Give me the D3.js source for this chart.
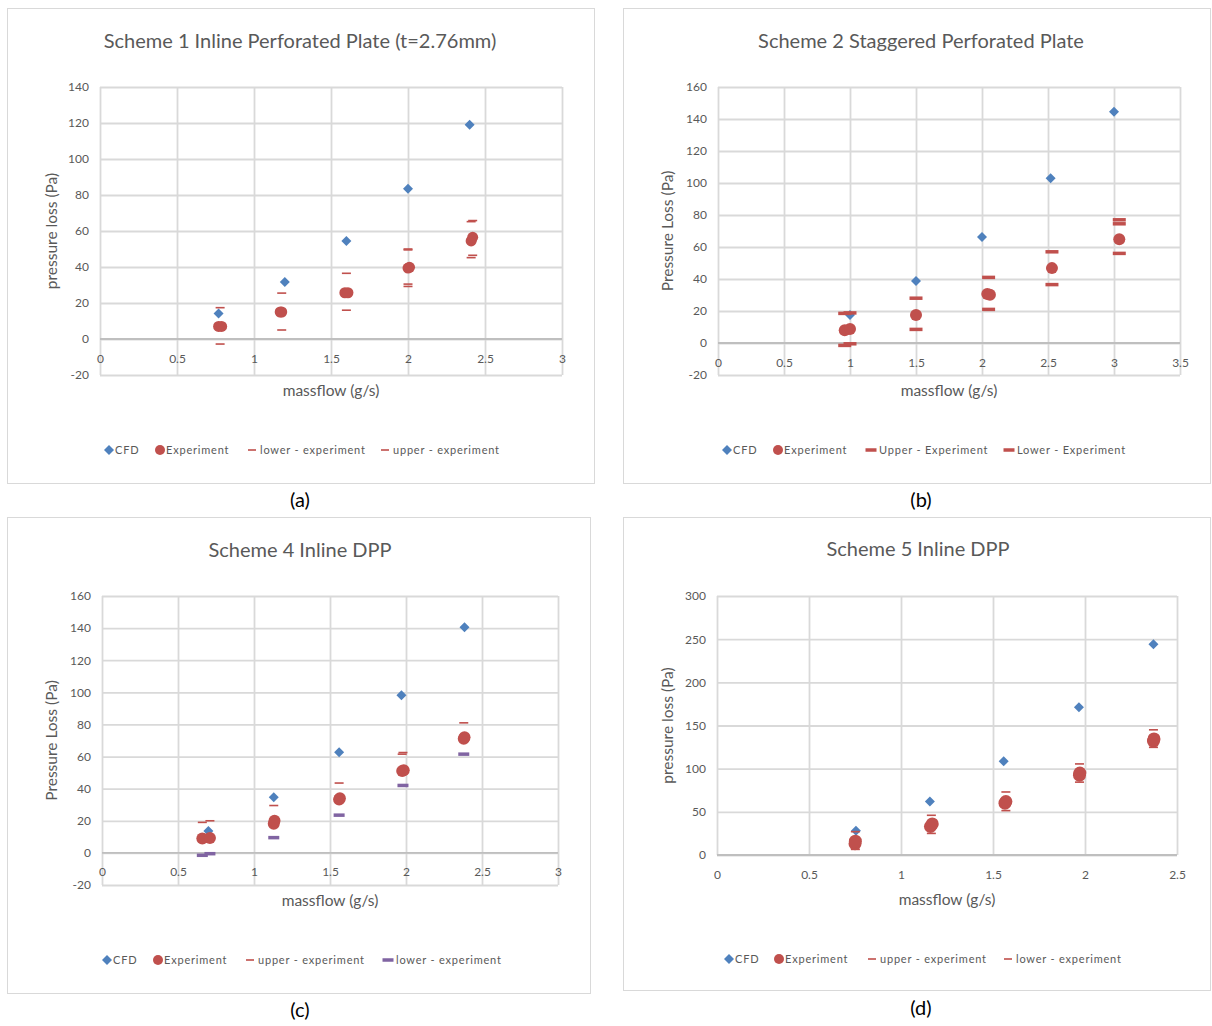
<!DOCTYPE html>
<html>
<head>
<meta charset="utf-8">
<script src="https://cdn.jsdelivr.net/npm/d3@7"></script>
<style>
body { margin: 0; background: #fff; }
text { font-family: Lato, "Open Sans", sans-serif; }
</style>
</head>
<body>
<svg id="chart" width="1212" height="1026"></svg>
<script>
// Scheme 1 (a)
var cfdA = [[0.77, 14.2], [1.2, 31.6], [1.6, 54.5], [2.0, 83.5], [2.4, 119]];
var expA = [[0.77, 7], [0.79, 7], [1.17, 15], [1.18, 15], [1.59, 25.7], [1.61, 25.7], [2.0, 39.4], [2.01, 39.8], [2.41, 54.5], [2.42, 56.5]];
var lowerA = [[0.78, -2.8], [1.18, 5], [1.6, 16], [2.0, 29.2], [2.0, 30.5], [2.41, 45.2], [2.42, 46.5]];
var upperA = [[0.78, 17.4], [1.18, 25.5], [1.6, 36.5], [2.0, 49.5], [2.0, 50], [2.41, 65.2], [2.42, 65.8]];

// Scheme 2 (b)
var cfdB = [[1.0, 17.5], [1.5, 38.7], [2.0, 66.3], [2.52, 103], [3.0, 144.5]];
var expB = [[0.96, 7.9], [1.0, 8.7], [1.5, 17.5], [2.04, 30.6], [2.06, 30.2], [2.53, 46.8], [3.04, 64.9]];
var upperB = [[0.96, 18.5], [1.0, 18.8], [1.5, 28], [2.05, 41], [2.53, 57], [3.04, 74.5], [3.04, 77]];
var lowerB = [[0.96, -1.5], [1.0, -0.5], [1.5, 8.5], [2.05, 21], [2.53, 36.5], [3.04, 56]];

// Scheme 4 (c)
var cfdC = [[0.70, 13.6], [1.13, 34.6], [1.56, 62.7], [1.97, 98.2], [2.385, 140.5]];
var expC = [[0.66, 8.9], [0.71, 9.3], [1.13, 18.2], [1.135, 20], [1.56, 33.2], [1.565, 34], [1.975, 51], [1.985, 51.5], [2.38, 71.1], [2.385, 72]];
var upperC = [[0.66, 19], [0.71, 20], [1.13, 29.5], [1.56, 43.5], [1.975, 61.5], [1.98, 62.5], [2.38, 81]];
var lowerC = [[0.66, -1.5], [0.71, -0.5], [1.13, 9.5], [1.56, 23.5], [1.98, 42], [2.38, 61.5]];

// Scheme 5 (d)
var cfdD = [[0.755, 28], [1.157, 62], [1.558, 108.5], [1.967, 171], [2.372, 244]];
var expD = [[0.75, 13], [0.752, 16], [1.16, 33], [1.17, 36], [1.565, 60], [1.57, 62], [1.97, 92.5], [1.972, 95], [2.372, 132], [2.375, 134.5]];
var upperD = [[0.752, 27], [1.165, 46], [1.57, 73], [1.97, 105.5], [2.372, 145]];
var lowerD = [[0.752, 6.5], [1.165, 25], [1.57, 51.4], [1.97, 84.4], [2.372, 124.7]];

var BLUE = "#4f81bd", RED = "#c0504d", PURPLE = "#8064a2";
var TXT = "#595959", GRID = "#d9d9d9";

var svg = d3.select("#chart");

var panels = [
	{
		frame: [7, 8, 594, 483], plot: [100, 87, 562, 375],
		xMax: 3, yMin: -20, yMax: 140, yStep: 20,
		title: "Scheme 1 Inline Perforated Plate (t=2.76mm)", titleX: 300, titleY: 48,
		yTitle: "pressure loss (Pa)", yTitleX: 52, xTitleY: 396,
		caption: "(a)", capX: 300, capY: 507,
		legendY: 450,
		series: [
			{ name: "CFD", data: cfdA, kind: "diamond", color: BLUE, lx: 109 },
			{ name: "Experiment", data: expA, kind: "circle", color: RED, r: 5.5, lx: 160 },
			{ name: "lower - experiment", data: lowerA, kind: "dash", color: RED, w: 9, h: 1.6, lx: 252 },
			{ name: "upper - experiment", data: upperA, kind: "dash", color: RED, w: 9, h: 1.6, lx: 385 }
		]
	},
	{
		frame: [623, 8, 1210, 483], plot: [718, 87, 1180, 375],
		xMax: 3.5, yMin: -20, yMax: 160, yStep: 20,
		title: "Scheme 2 Staggered Perforated Plate", titleX: 921, titleY: 48,
		yTitle: "Pressure Loss (Pa)", yTitleX: 668, xTitleY: 396,
		caption: "(b)", capX: 921, capY: 507,
		legendY: 450,
		series: [
			{ name: "CFD", data: cfdB, kind: "diamond", color: BLUE, lx: 727 },
			{ name: "Experiment", data: expB, kind: "circle", color: RED, r: 6, lx: 778 },
			{ name: "Upper - Experiment", data: upperB, kind: "dash", color: RED, w: 13, h: 3.5, lx: 871 },
			{ name: "Lower - Experiment", data: lowerB, kind: "dash", color: RED, w: 13, h: 3.5, lx: 1009 }
		]
	},
	{
		frame: [7, 517, 590, 993], plot: [102, 596, 558, 885],
		xMax: 3, yMin: -20, yMax: 160, yStep: 20,
		title: "Scheme 4 Inline DPP", titleX: 300, titleY: 557,
		yTitle: "Pressure Loss (Pa)", yTitleX: 52, xTitleY: 906,
		caption: "(c)", capX: 300, capY: 1017,
		legendY: 960,
		series: [
			{ name: "CFD", data: cfdC, kind: "diamond", color: BLUE, lx: 107 },
			{ name: "Experiment", data: expC, kind: "circle", color: RED, r: 6, lx: 158 },
			{ name: "upper - experiment", data: upperC, kind: "dash", color: RED, w: 9, h: 1.6, lx: 250 },
			{ name: "lower - experiment", data: lowerC, kind: "dash", color: PURPLE, w: 11, h: 3.5, lx: 388 }
		]
	},
	{
		frame: [623, 517, 1210, 990], plot: [717, 596, 1177, 855],
		xMax: 2.5, yMin: 0, yMax: 300, yStep: 50,
		title: "Scheme 5 Inline DPP", titleX: 918, titleY: 556,
		yTitle: "pressure loss (Pa)", yTitleX: 668, xTitleY: 905,
		caption: "(d)", capX: 921, capY: 1015,
		legendY: 959,
		series: [
			{ name: "CFD", data: cfdD, kind: "diamond", color: BLUE, lx: 729 },
			{ name: "Experiment", data: expD, kind: "circle", color: RED, r: 6.5, lx: 779 },
			{ name: "upper - experiment", data: upperD, kind: "dash", color: RED, w: 9, h: 1.6, lx: 872 },
			{ name: "lower - experiment", data: lowerD, kind: "dash", color: RED, w: 9, h: 1.6, lx: 1008 }
		]
	}
];

var diamond = d3.symbol().type(d3.symbolSquare).size(50);

function drawMark(g, s, x, y) {
	if (s.kind == "diamond") {
		g.append("path")
			.attr("d", diamond())
			.attr("fill", s.color)
			.attr("transform", "translate(" + x + "," + y + ") rotate(45)");
	} else if (s.kind == "circle") {
		g.append("circle")
			.attr("cx", x).attr("cy", y).attr("r", s.r)
			.attr("fill", s.color);
	} else {
		g.append("rect")
			.attr("x", x - s.w / 2).attr("y", y - s.h / 2)
			.attr("width", s.w).attr("height", s.h)
			.attr("fill", s.color);
	}
}

// Excel風にハイフンのマイナス
function plainNum(d) { return String(d); }

panels.forEach(function(p) {
	var g = svg.append("g");

	//枠
	g.append("rect")
		.attr("x", p.frame[0] + 0.5).attr("y", p.frame[1] + 0.5)
		.attr("width", p.frame[2] - p.frame[0]).attr("height", p.frame[3] - p.frame[1])
		.attr("fill", "none").attr("stroke", GRID);

	var x = d3.scaleLinear().domain([0, p.xMax]).range([p.plot[0], p.plot[2]]);
	var y = d3.scaleLinear().domain([p.yMin, p.yMax]).range([p.plot[3], p.plot[1]]);

	var xTicks = d3.range(0, p.xMax + 0.001, 0.5);
	var yTicks = d3.range(p.yMin, p.yMax + 0.001, p.yStep);

	//グリッド
	var gridY = d3.axisLeft(y).tickValues(yTicks).tickSize(-(p.plot[2] - p.plot[0])).tickFormat("");
	g.append("g").attr("transform", "translate(" + p.plot[0] + ",0)").call(gridY)
		.call(function(a) {
			a.select(".domain").remove();
			a.selectAll("line").attr("stroke", GRID).attr("stroke-width", 1.8);
		});
	var gridX = d3.axisBottom(x).tickValues(xTicks).tickSize(-(p.plot[3] - p.plot[1])).tickFormat("");
	g.append("g").attr("transform", "translate(0," + p.plot[3] + ")").call(gridX)
		.call(function(a) {
			a.select(".domain").remove();
			a.selectAll("line").attr("stroke", GRID).attr("stroke-width", 1.8);
		});

	//ゼロ線
	g.append("line")
		.attr("x1", p.plot[0]).attr("x2", p.plot[2])
		.attr("y1", y(0)).attr("y2", y(0))
		.attr("stroke", "#bfbfbf").attr("stroke-width", 1.8);

	//目盛ラベル
	var ax = d3.axisLeft(y).tickValues(yTicks).tickSize(0).tickPadding(11).tickFormat(plainNum);
	g.append("g").attr("transform", "translate(" + p.plot[0] + ",0)").call(ax)
		.call(function(a) {
			a.select(".domain").remove();
			a.selectAll("text").attr("fill", TXT).style("font-size", "12px")
				.style("font-family", "Lato, sans-serif");
		});
	var bx = d3.axisBottom(x).tickValues(xTicks).tickSize(0).tickPadding(15).tickFormat(plainNum);
	g.append("g").attr("transform", "translate(0," + y(0) + ")").call(bx)
		.call(function(a) {
			a.select(".domain").remove();
			a.selectAll("text").attr("fill", TXT).style("font-size", "12px")
				.style("font-family", "Lato, sans-serif");
		});

	//タイトル
	g.append("text")
		.attr("x", p.titleX).attr("y", p.titleY)
		.attr("text-anchor", "middle")
		.attr("fill", TXT).style("font-size", "20px")
		.text(p.title);

	g.append("text")
		.attr("transform", "translate(" + p.yTitleX + "," + ((p.plot[1] + p.plot[3]) / 2) + ") rotate(-90)")
		.attr("text-anchor", "middle").attr("dy", "0.35em")
		.attr("fill", TXT).style("font-size", "15.5px")
		.text(p.yTitle);

	g.append("text")
		.attr("x", (p.plot[0] + p.plot[2]) / 2).attr("y", p.xTitleY)
		.attr("text-anchor", "middle")
		.attr("fill", TXT).style("font-size", "15.5px")
		.text("massflow (g/s)");

	//点
	p.series.forEach(function(s) {
		var sg = g.append("g");
		s.data.forEach(function(d) {
			drawMark(sg, s, x(d[0]), y(d[1]));
		});
	});

	//凡例
	p.series.forEach(function(s) {
		var lg = g.append("g");
		var ls = Object.assign({}, s);
		if (s.kind == "circle") ls.r = 5;
		if (s.kind == "dash") ls.w = s.h > 2 ? 11 : 8;
		drawMark(lg, ls, s.lx, p.legendY);
		lg.append("text")
			.attr("x", s.lx + (s.kind == "dash" ? 8 : 6)).attr("y", p.legendY)
			.attr("dy", "0.35em")
			.attr("fill", TXT).style("font-size", "11px").style("letter-spacing", "0.8px")
			.text(s.name);
	});

	//キャプション
	svg.append("text")
		.attr("x", p.capX).attr("y", p.capY)
		.attr("text-anchor", "middle")
		.attr("fill", "#000").style("font-size", "20px")
		.style("font-family", "Lato, sans-serif")
		.text(p.caption);
});
</script>
</body>
</html>
